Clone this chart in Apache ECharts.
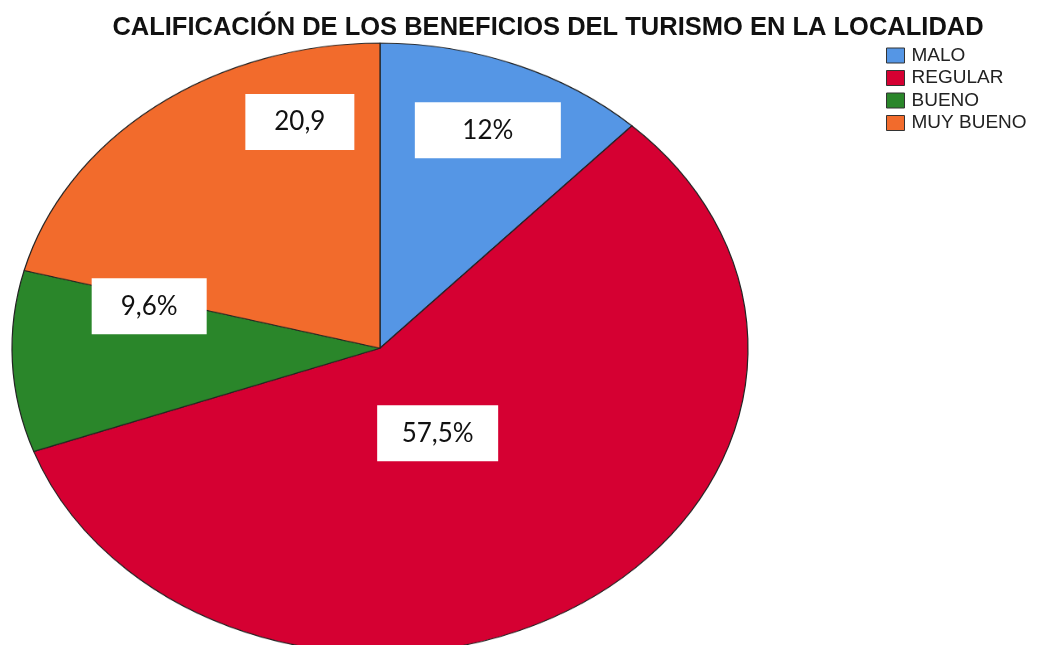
<!DOCTYPE html>
<html>
<head>
<meta charset="utf-8">
<script src="https://cdn.jsdelivr.net/npm/echarts@6/dist/echarts.min.js"></script>
<style>
    html, body { margin: 0; padding: 0; width: 1037px; height: 645px; overflow: hidden; background: #fff; }
    /* the pie is drawn as a circle and squeezed into the ellipse of the original */
    #pie { position: absolute; left: 0; top: 0; width: 1037px; height: 800px; transform: scaleY(0.829); transform-origin: 0 0; }
    #over { position: absolute; left: 0; top: 0; width: 1037px; height: 645px; }
</style>
</head>
<body>
<div id="pie"></div>
<div id="over"></div>
<script>
var categories = ['MALO', 'REGULAR', 'BUENO', 'MUY BUENO'];
var values = [12, 57.5, 9.6, 20.9];
var labelTexts = ['12%', '57,5%', '9,6%', '20,9'];
var colors = ['#5596e5', '#d50032', '#2a862a', '#f26b2c'];

// label boxes were moved by hand in the original, so nudge them
var labelShift = [[39, -44], [-45, -71], [-44, -50], [34, -78]];
var labelBox = [[146, 56], [121, 56], [115, 56], [109, 56]];

var pieData = categories.map(function(name, i) {
    return { name: name, value: values[i], itemStyle: { color: colors[i] } };
});

var pieChart = echarts.init(document.getElementById('pie'));
pieChart.setOption({
    animation: false,
    series: [{
        type: 'pie',
        center: [380, 420],
        radius: [0, 368],
        startAngle: 90,
        silent: true,
        label: { show: false },
        labelLine: { show: false },
        itemStyle: { borderColor: '#222', borderWidth: 1.2 },
        data: pieData
    }]
});

var overChart = echarts.init(document.getElementById('over'));
overChart.setOption({
    animation: false,
    title: {
        text: 'CALIFICACIÓN DE LOS BENEFICIOS DEL TURISMO EN LA LOCALIDAD',
        left: 543,
        textAlign: 'center',
        top: 10,
        textStyle: { fontFamily: 'Liberation Sans', fontWeight: 'bold', fontSize: 25.5, color: '#111' }
    },
    legend: {
        orient: 'vertical',
        left: 881,
        top: 41,
        itemWidth: 18,
        itemHeight: 15,
        itemGap: 3.5,
        icon: 'rect',
        selectedMode: false,
        itemStyle: { opacity: 1, borderColor: '#333', borderWidth: 1 },
        textStyle: { fontFamily: 'Liberation Sans', fontSize: 19, lineHeight: 18, color: '#222', padding: [0, 0, 0, 2] },
        data: categories
    },
    series: [{
        type: 'pie',
        center: [380, 348],
        radius: [0, 368],
        startAngle: 90,
        silent: true,
        itemStyle: { opacity: 0 },
        labelLine: { show: false },
        label: {
            show: true,
            position: 'inside',
            opacity: 1,
            formatter: function(p) { return labelTexts[p.dataIndex]; },
            fontFamily: 'Lato',
            fontSize: 26,
            color: '#111',
            backgroundColor: '#fff',
            align: 'center',
            verticalAlign: 'middle'
        },
        labelLayout: function(p) {
            return { dx: labelShift[p.dataIndex][0], dy: labelShift[p.dataIndex][1] };
        },
        data: pieData.map(function(d, i) {
            return {
                name: d.name,
                value: d.value,
                itemStyle: d.itemStyle,
                label: { width: labelBox[i][0], height: labelBox[i][1], lineHeight: labelBox[i][1] }
            };
        })
    }]
});
</script>
</body>
</html>
